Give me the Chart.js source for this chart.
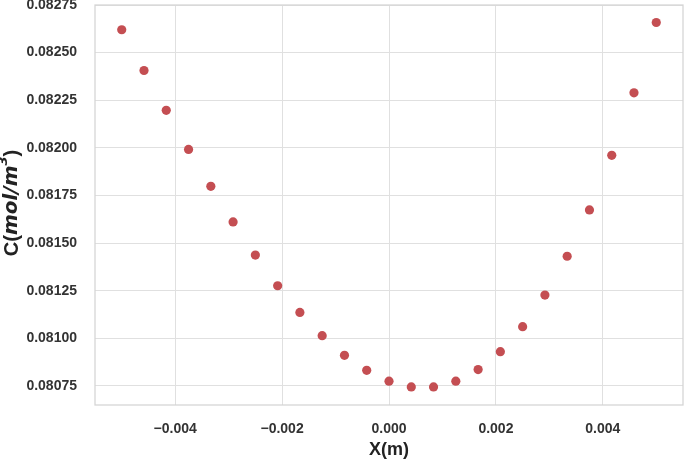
<!DOCTYPE html>
<html>
<head>
<meta charset="utf-8">
<script src="https://cdn.jsdelivr.net/npm/chart.js@4/dist/chart.umd.min.js"></script>
<style>
html, body { margin: 0; padding: 0; background: #ffffff; }
#wrap { width: 685px; height: 459px; }
</style>
</head>
<body>
<div id="wrap"><canvas id="concChart"></canvas></div>
<script>

// data

let xValues = [-0.005, -0.004583, -0.004167, -0.00375, -0.003333, -0.002917, -0.0025, -0.002083, -0.001667, -0.00125, -0.000833, -0.000417, 0.0, 0.000417, 0.000833, 0.00125, 0.001667, 0.002083, 0.0025, 0.002917, 0.003333, 0.00375, 0.004167, 0.004583, 0.005];

let cValues = [0.08262, 0.082406, 0.082197, 0.081992, 0.081798, 0.081611, 0.081437, 0.081276, 0.081136, 0.081014, 0.080911, 0.080832, 0.080775, 0.080745, 0.080745, 0.080775, 0.080836, 0.08093, 0.081061, 0.081227, 0.081431, 0.081674, 0.081961, 0.082289, 0.082658];

let xTicks = [-0.004, -0.002, 0.0, 0.002, 0.004];

let yTicks = [0.08075, 0.081, 0.08125, 0.0815, 0.08175, 0.082, 0.08225, 0.0825, 0.08275];

let points = xValues.map((x, i) => ({ x: x, y: cValues[i] }));

// border round the plot + y title with italic unit

let framePlugin = {
id: "frame",
afterDraw(chart){
let ctx = chart.ctx;
let a = chart.chartArea;
ctx.save();
ctx.strokeStyle = "#d4d4d4";
ctx.lineWidth = 1.25;
ctx.strokeRect(a.left, a.top, a.right - a.left, a.bottom - a.top);

// y axis title: C(mol/m^3)
let parts = [
{ t: "C(", f: "bold 20px 'Liberation Sans', Arial, sans-serif", dy: 0 },
{ t: "mol/m", f: "italic bold 20px 'DejaVu Sans', sans-serif", dy: 0 },
{ t: "3", f: "italic bold 13px 'DejaVu Sans', sans-serif", dy: -8 },
{ t: ")", f: "bold 20px 'Liberation Sans', Arial, sans-serif", dy: 0 }
];
let total = 0;
parts.forEach(p => { ctx.font = p.f; p.w = ctx.measureText(p.t).width; total += p.w; });
ctx.translate(12, 203);
ctx.rotate(-Math.PI / 2);
ctx.fillStyle = "#222222";
ctx.textBaseline = "middle";
ctx.textAlign = "left";
let pos = -total / 2;
parts.forEach(p => {
ctx.font = p.f;
ctx.fillText(p.t, pos, p.dy);
pos += p.w;
});
ctx.restore();
}
};

let tickFont = { family: "'Liberation Sans', Arial, sans-serif", size: 14, weight: "bold" };

new Chart(document.getElementById("concChart"), {

type: "scatter",

data: {
datasets: [{
label: "C",
data: points,
backgroundColor: "#C44E52",
borderWidth: 0,
pointRadius: 4.6,
pointHoverRadius: 4.6
}]
},

options: {
responsive: true,
maintainAspectRatio: false,
animation: false,
layout: {
autoPadding: false,
padding: { left: 26, right: 2, top: 5, bottom: 0 }
},
plugins: {
legend: { display: false },
tooltip: { enabled: false }
},
scales: {
x: {
type: "linear",
min: -0.0055,
max: 0.0055,
afterBuildTicks: scale => { scale.ticks = xTicks.map(v => ({ value: v })); },
afterFit: scale => {
scale.height = 54;
scale.paddingLeft = 0;
scale.paddingRight = 0;
},
grid: { color: "#e0e0e0", lineWidth: 1, drawTicks: false },
border: { display: false },
ticks: {
padding: 16,
color: "#333333",
font: tickFont,
autoSkip: false,
maxRotation: 0,
callback: v => v.toFixed(3).replace("-", "\u2212")
},
title: {
display: true,
text: "X(m)",
color: "#222222",
font: { family: "'Liberation Sans', Arial, sans-serif", size: 18, weight: "bold", lineHeight: 1.0 },
padding: { top: 1, bottom: 0 }
}
},
y: {
type: "linear",
min: 0.08065,
max: 0.08275,
afterBuildTicks: scale => { scale.ticks = yTicks.map(v => ({ value: v })); },
afterFit: scale => {
scale.width = 69;
scale.paddingTop = 0;
scale.paddingBottom = 0;
},
grid: { color: "#e0e0e0", lineWidth: 1, drawTicks: false },
border: { display: false },
ticks: {
padding: 18,
color: "#333333",
font: tickFont,
autoSkip: false,
callback: v => v.toFixed(5)
}
}
}
},

plugins: [framePlugin]

});

</script>
</body>
</html>
